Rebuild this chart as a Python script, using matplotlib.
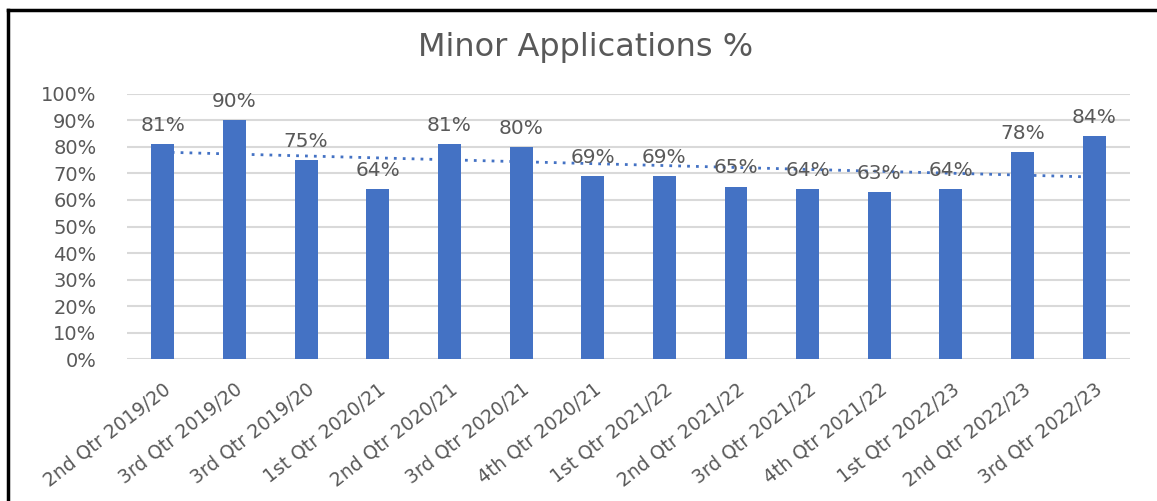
import numpy as np
import matplotlib
matplotlib.use("Agg")
import matplotlib.pyplot as plt
from matplotlib.lines import Line2D

quarters = ["2nd Qtr 2019/20", "3rd Qtr 2019/20", "3rd Qtr 2019/20", "1st Qtr 2020/21",
            "2nd Qtr 2020/21", "3rd Qtr 2020/21", "4th Qtr 2020/21", "1st Qtr 2021/22",
            "2nd Qtr 2021/22", "3rd Qtr 2021/22", "4th Qtr 2021/22", "1st Qtr 2022/23",
            "2nd Qtr 2022/23", "3rd Qtr 2022/23"]
pct = [81, 90, 75, 64, 81, 80, 69, 69, 65, 64, 63, 64, 78, 84]

plt.rcParams['font.family'] = ['DejaVu Sans']
text_col = '#595959'
bar_col = '#4472C4'

fig = plt.figure(figsize=(11.57, 5.01), dpi=100)
ax = fig.add_axes([0.1098, 0.2834, 0.8669, 0.529])

x = np.arange(len(pct))
vals = np.array(pct) / 100
ax.bar(x, vals, width=0.32, color=bar_col, zorder=3)

# linear trendline
k, b = np.polyfit(x, vals, 1)
ax.plot(x, k * x + b, linestyle=(0, (1, 2.2)), color=bar_col, lw=2.0, zorder=4)

for xi, v in zip(x, pct):
    ax.text(xi, v / 100 + 0.035, f"{v}%", ha='center', va='bottom',
            fontsize=14.5, color=text_col, zorder=5)

ax.set_xlim(-0.5, len(pct) - 0.5)
ax.set_ylim(0, 1.0)
ticks = np.arange(0, 1.01, 0.1)
ax.set_yticks(ticks)
ax.set_yticklabels([f"{int(round(t * 100))}%" for t in ticks],
                   fontsize=14, color=text_col)
ax.set_xticks(x)
ax.set_xticklabels(quarters, rotation=38, ha='right', rotation_mode='anchor',
                   fontsize=13.5, color=text_col)
ax.tick_params(axis='y', length=0, pad=22)
ax.tick_params(axis='x', length=0, pad=15)
ax.grid(axis='y', color='#D9D9D9', lw=1.5, zorder=0)
for s in ax.spines.values():
    s.set_visible(False)

fig.text(0.5065, 0.906, "Minor Applications %", ha='center', va='center',
         fontsize=23, color=text_col)

# outer border (top and left visible)
fig.add_artist(Line2D([8 / 1157, 1.0], [1 - 10 / 501, 1 - 10 / 501],
                      transform=fig.transFigure, color='black', lw=2.5))
fig.add_artist(Line2D([8 / 1157, 8 / 1157], [0, 1 - 10 / 501],
                      transform=fig.transFigure, color='black', lw=2.5))

fig.savefig("out.png", dpi=100)
